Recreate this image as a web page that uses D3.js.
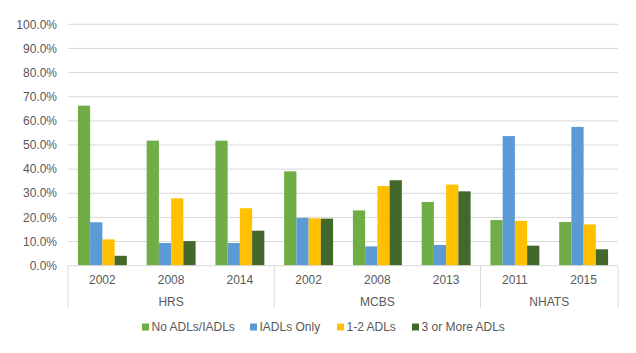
<!DOCTYPE html>
<html><head><meta charset="utf-8">
<script src="https://cdn.jsdelivr.net/npm/d3@7/dist/d3.min.js"></script>
<style>body{margin:0;background:#fff;} text{font-family:Arial,"Liberation Sans",sans-serif;}</style>
</head><body><svg id="c" width="636" height="353"></svg>
<script>
const years = ["2002","2008","2014","2002","2008","2013","2011","2015"];
const groups = [{name:"HRS",start:0,end:3},{name:"MCBS",start:3,end:6},{name:"NHATS",start:6,end:8}];
const seriesNames = ["No ADLs/IADLs","IADLs Only","1-2 ADLs","3 or More ADLs"];
const colors = ["#70AD47","#5B9BD5","#FFC000","#43682B"];
const noADL  = [66.3,51.8,51.8,39.1,22.9,26.4,18.9,18.1];
const iadlOnly = [18.0,9.4,9.4,19.8,8.0,8.6,53.7,57.5];
const adl12 = [10.9,27.9,23.8,19.6,33.0,33.6,18.6,17.1];
const adl3 = [4.1,10.2,14.5,19.5,35.4,30.8,8.3,6.8];
const yTicks = [0,10,20,30,40,50,60,70,80,90,100];
const seriesVals = [noADL,iadlOnly,adl12,adl3];

const svg = d3.select("#c");
const L=68, R=618, T=24.3, B=265.7;
const x = d3.scaleBand().domain(d3.range(years.length)).range([L,R]).paddingInner(0).paddingOuter(0);
const inner = d3.scaleBand().domain(d3.range(4)).range([0,x.bandwidth()]).paddingOuter(0.81).paddingInner(0);
const y = d3.scaleLinear().domain([0,100]).range([B,T]);

// gridlines
svg.append("g").selectAll("line").data(yTicks.filter(d=>d>0)).join("line")
  .attr("x1",L).attr("x2",R).attr("y1",d=>y(d)).attr("y2",d=>y(d))
  .attr("stroke","#D9D9D9").attr("stroke-width",1);
// y labels
svg.append("g").selectAll("text").data(yTicks).join("text")
  .attr("x",57).attr("y",d=>y(d)).attr("dy","0.35em").attr("text-anchor","end")
  .attr("font-size","12px").attr("fill","#595959").text(d=>d.toFixed(1)+"%");

// bars
seriesVals.forEach((vals,si)=>{
  svg.append("g").selectAll("rect").data(vals).join("rect")
    .attr("x",(d,i)=>x(i)+inner(si)).attr("width",inner.bandwidth())
    .attr("y",d=>y(d)).attr("height",d=>y(0)-y(d)).attr("fill",colors[si]);
});

// x axis line
svg.append("line").attr("x1",L).attr("x2",R).attr("y1",B).attr("y2",B).attr("stroke","#D9D9D9");
// group separators
const seps = [0,3,6,8];
svg.append("g").selectAll("line").data(seps).join("line")
  .attr("x1",d=>d<8?x(d):R).attr("x2",d=>d<8?x(d):R).attr("y1",B).attr("y2",308)
  .attr("stroke","#D9D9D9");
// year labels
svg.append("g").selectAll("text").data(years).join("text")
  .attr("x",(d,i)=>x(i)+x.bandwidth()/2).attr("y",280).attr("dy","0.35em").attr("text-anchor","middle")
  .attr("font-size","12px").attr("fill","#595959").text(d=>d);
// group labels
svg.append("g").selectAll("text").data(groups).join("text")
  .attr("x",g=>(x(g.start)+(g.end<8?x(g.end):R))/2).attr("y",302).attr("dy","0.35em").attr("text-anchor","middle")
  .attr("font-size","12px").attr("fill","#595959").text(g=>g.name);

// legend
const legX = [142,250,337,412];
const lg = svg.append("g").selectAll("g").data(seriesNames).join("g")
  .attr("transform",(d,i)=>`translate(${legX[i]},327)`);
lg.append("rect").attr("x",0).attr("y",-3.5).attr("width",7).attr("height",7).attr("fill",(d,i)=>colors[i]);
lg.append("text").attr("x",9.5).attr("y",0).attr("dy","0.35em").attr("font-size","12px").attr("fill","#595959").text(d=>d);
</script></body></html>
